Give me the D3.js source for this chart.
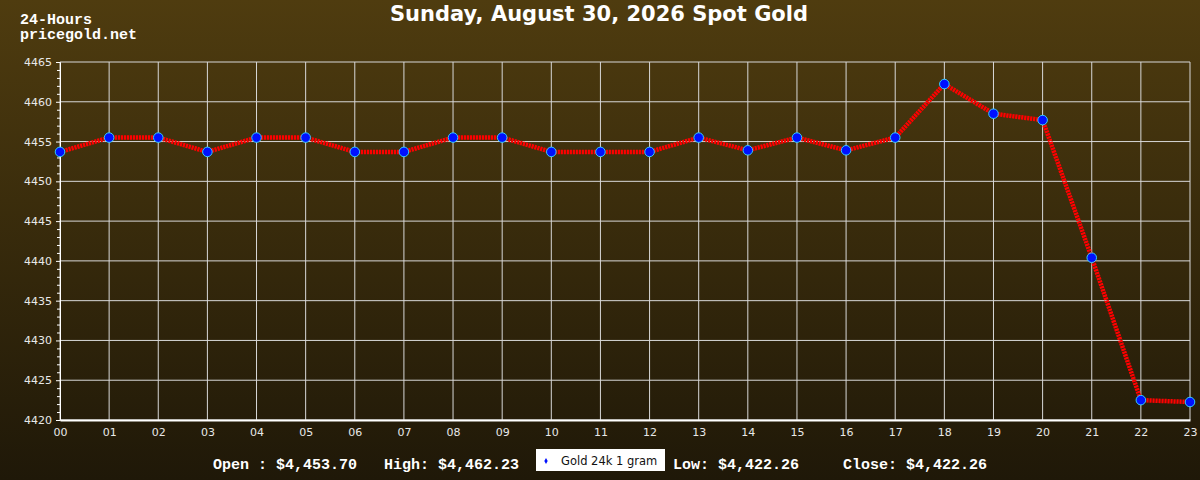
<!DOCTYPE html>
<html>
<head>
<meta charset="utf-8">
<script src="https://cdn.jsdelivr.net/npm/d3@7"></script>
<style>
  html, body { margin: 0; padding: 0; background: #1f1808; }
  svg { display: block; }
</style>
</head>
<body>
<div id="root"></div>
<script>
// hourly spot price
const hours = ['00','01','02','03','04','05','06','07','08','09','10','11',
               '12','13','14','15','16','17','18','19','20','21','22','23'];
const prices = [4453.70, 4455.50, 4455.50, 4453.70, 4455.50, 4455.50, 4453.70, 4453.70,
                4455.50, 4455.50, 4453.70, 4453.70, 4453.70, 4455.50, 4453.90, 4455.50,
                4453.90, 4455.50, 4462.23, 4458.50, 4457.70, 4440.40, 4422.50, 4422.26];
const yTicks = [4420, 4425, 4430, 4435, 4440, 4445, 4450, 4455, 4460, 4465];
const summary = [
  { label: 'Open : $4,453.70', x: 213 },
  { label: 'High: $4,462.23', x: 384 },
  { label: 'Low: $4,422.26', x: 673 },
  { label: 'Close: $4,422.26', x: 843 }
];

const W = 1200, H = 480;
const margin = { top: 62, right: 10, bottom: 60, left: 60 };

const svg = d3.select('#root').append('svg')
  .attr('width', W).attr('height', H);

const grad = svg.append('defs').append('linearGradient')
  .attr('id', 'bg').attr('x1', 0).attr('y1', 0).attr('x2', 0).attr('y2', 1);
grad.append('stop').attr('offset', '0%').attr('stop-color', '#4f3c0f');
grad.append('stop').attr('offset', '100%').attr('stop-color', '#1f1808');

svg.append('rect').attr('width', W).attr('height', H).attr('fill', 'url(#bg)');

const x = d3.scalePoint().domain(hours).range([margin.left, W - margin.right]);
const y = d3.scaleLinear().domain([4420, 4465]).range([H - margin.bottom, margin.top]);

// grid
svg.append('g').selectAll('line.h').data(yTicks).join('line')
  .attr('x1', margin.left).attr('x2', W - margin.right)
  .attr('y1', d => y(d)).attr('y2', d => y(d))
  .attr('stroke', '#d8d8d8').attr('stroke-width', 1);
svg.append('g').selectAll('line.v').data(hours).join('line')
  .attr('x1', d => x(d)).attr('x2', d => x(d))
  .attr('y1', margin.top).attr('y2', H - margin.bottom)
  .attr('stroke', '#d8d8d8').attr('stroke-width', 1);

// y axis with minor ticks
const yAxis = svg.append('g')
  .attr('transform', `translate(${margin.left},0)`)
  .call(d3.axisLeft(y).tickValues(yTicks).tickSize(4).tickPadding(4).tickFormat(d3.format('d')));
yAxis.select('.domain').attr('stroke', '#ffffff');
yAxis.selectAll('.tick line').attr('stroke', '#ffffff');
yAxis.selectAll('text').attr('fill', '#e8e8e8')
  .style('font-family', 'DejaVu Sans').style('font-size', '11px');
svg.append('g').selectAll('line').data(d3.range(4420, 4466).filter(v => v % 5 !== 0)).join('line')
  .attr('x1', margin.left - 3).attr('x2', margin.left)
  .attr('y1', d => y(d) + 0.5).attr('y2', d => y(d) + 0.5)
  .attr('stroke', '#ffffff');

// x axis
const xAxis = svg.append('g')
  .attr('transform', `translate(0,${H - margin.bottom})`)
  .call(d3.axisBottom(x).tickSize(0).tickPadding(8));
xAxis.select('.domain').attr('stroke', '#ffffff').attr('stroke-width', 2);
xAxis.selectAll('text').attr('fill', '#e8e8e8')
  .style('font-family', 'DejaVu Sans').style('font-size', '11px');

// price line
const line = d3.line().x((d, i) => x(hours[i])).y(d => y(d));
svg.append('path').datum(prices)
  .attr('d', line).attr('fill', 'none')
  .attr('stroke', '#ff0000').attr('stroke-width', 4.5)
  .attr('stroke-dasharray', '2.2,0.8');

svg.append('g').selectAll('path').data(prices).join('path')
  .attr('d', d3.symbol(d3.symbolCircle, 72))
  .attr('transform', (d, i) => `translate(${x(hours[i])},${y(d)})`)
  .attr('fill', '#0010ff').attr('stroke', '#33ccff').attr('stroke-width', 1);

// titles
svg.append('text').attr('x', 599).attr('y', 21).attr('text-anchor', 'middle')
  .attr('fill', '#ffffff').style('font-family', 'DejaVu Sans').style('font-weight', 'bold')
  .style('font-size', '21px').text('Sunday, August 30, 2026 Spot Gold');
svg.append('text').attr('x', 20).attr('y', 24).attr('fill', '#ffffff')
  .style('font-family', 'Liberation Mono').style('font-weight', 'bold')
  .style('font-size', '15px').text('24-Hours');
svg.append('text').attr('x', 20).attr('y', 39).attr('fill', '#ffffff')
  .style('font-family', 'Liberation Mono').style('font-weight', 'bold')
  .style('font-size', '15px').text('pricegold.net');

// summary
svg.append('g').selectAll('text').data(summary).join('text')
  .attr('x', d => d.x).attr('y', 469).attr('fill', '#ffffff')
  .style('font-family', 'Liberation Mono').style('font-weight', 'bold')
  .style('font-size', '15px')
  .text(d => d.label);

// legend
const lg = svg.append('g').attr('transform', 'translate(536,449)');
lg.append('rect').attr('width', 129).attr('height', 22).attr('fill', '#ffffff');
lg.append('path').attr('d', d3.symbol(d3.symbolDiamond, 10))
  .attr('transform', 'translate(10,12)').attr('fill', '#0010ff');
lg.append('text').attr('x', 25).attr('y', 15.5).attr('fill', '#111')
  .style('font-family', 'DejaVu Sans').style('font-size', '11.5px').text('Gold 24k 1 gram');
</script>
</body>
</html>
